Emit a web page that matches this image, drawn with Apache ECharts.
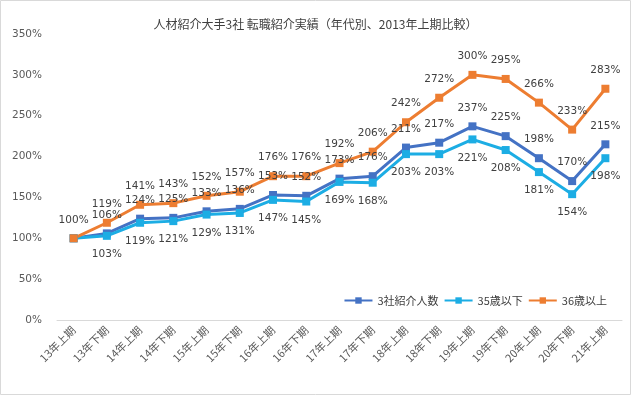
<!DOCTYPE html>
<html><head><meta charset="utf-8">
<script src="https://cdn.jsdelivr.net/npm/echarts@6/dist/echarts.min.js"></script>
<style>html,body{margin:0;padding:0;background:#fff}#c{width:631px;height:395px}</style>
</head><body><div id="c"></div>
<script>
const categories = ['13年上期','13年下期','14年上期','14年下期','15年上期','15年下期','16年上期','16年下期','17年上期','17年下期','18年上期','18年下期','19年上期','19年下期','20年上期','20年下期','21年上期'];
const total = [100,106,124,125,133,136,153,152,173,176,211,217,237,225,198,170,215];
const under35 = [100,103,119,121,129,131,147,145,169,168,203,203,221,208,181,154,198];
const over36 = [100,119,141,143,152,157,176,176,192,206,242,272,300,295,266,233,283];
const yTicks = [0,50,100,150,200,250,300,350];
const title = '人材紹介大手3社 転職紹介実績（年代別、2013年上期比較）';

const labelFont = {fontFamily:'DejaVu Sans, sans-serif', fontSize:10.5, color:'#404040'};
function ser(name, data, color, pos, hideFirst){
  return {
    name, type:'line', data: data.map((v,i)=>({value:v, label:{show: !(hideFirst && i===0)}})),
    symbol:'rect', symbolSize:8, lineStyle:{width:3,color}, itemStyle:{color},
    label:Object.assign({show:true, position:pos, distance:9, formatter:p=>p.value+'%'}, labelFont),
    animation:false
  };
}
const chart = echarts.init(document.getElementById('c'));
chart.setOption({
  animation:false,
  title:{text:title, left:'center', top:13, textStyle:{fontFamily:'Noto Sans CJK JP, sans-serif', fontSize:12, fontWeight:'normal', color:'#404040'}},
  graphic:[{type:'rect', shape:{x:0.5,y:0.5,width:630,height:394}, style:{fill:'none', stroke:'#d9d9d9', lineWidth:1}, silent:true}],
  grid:{left:57, right:9, top:34, bottom:75},
  legend:{right:19, top:290, itemWidth:28, itemHeight:8, itemGap:5,
    textStyle:{fontFamily:'Noto Sans CJK JP, sans-serif', fontSize:11, color:'#404040'},
    data:['3社紹介人数','35歳以下','36歳以上']},
  xAxis:{type:'category', data:categories, boundaryGap:true,
    axisLine:{lineStyle:{color:'#d9d9d9'}}, axisTick:{show:false},
    axisLabel:{rotate:45, interval:0, margin:8, fontFamily:'Noto Sans CJK JP, sans-serif', fontSize:11, color:'#595959'}},
  yAxis:{type:'value', min:0, max:350, interval:50,
    axisLine:{show:false}, axisTick:{show:false}, splitLine:{show:false},
    axisLabel:{margin:15, formatter:v=>v+'%', fontFamily:'DejaVu Sans, sans-serif', fontSize:10.5, color:'#595959'}},
  series:[
    ser('3社紹介人数', total, '#4472C4', 'top', true),
    ser('35歳以下', under35, '#1CADE4', 'bottom', true),
    ser('36歳以上', over36, '#ED7D31', 'top', false)
  ]
});
</script></body></html>
